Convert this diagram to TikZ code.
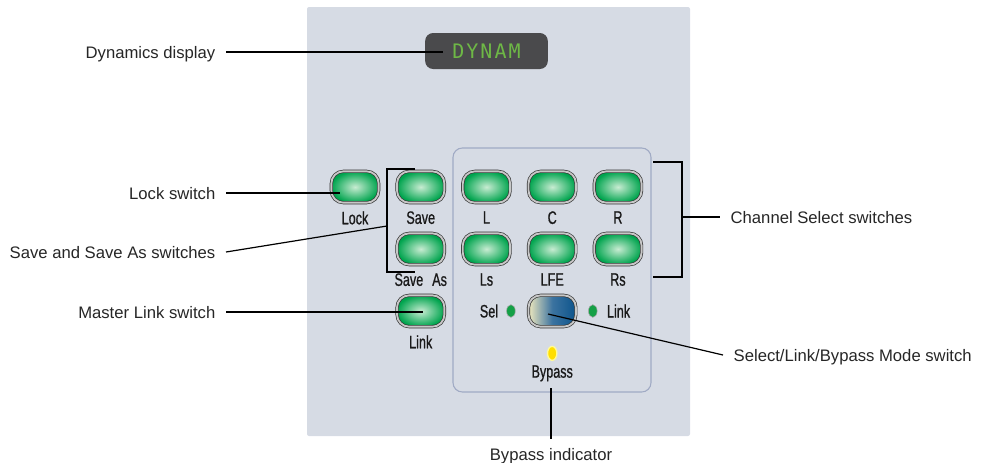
\documentclass[tikz,border=0pt]{standalone}
\usepackage{fontspec}
\setmainfont{Liberation Sans}
\newfontfamily\btnfont[FakeStretch=0.7, FakeBold=0.8]{Liberation Sans}
\newfontfamily\lcdfont[LetterSpace=10]{DejaVu Sans Mono}
\usetikzlibrary{positioning,shapes.geometric,fit}
\definecolor{panelfill}{RGB}{214,219,228}
\definecolor{chedge}{RGB}{160,170,196}
\definecolor{lcdgray}{RGB}{74,74,76}
\definecolor{lcdgreen}{RGB}{110,184,70}
\definecolor{swgreen}{RGB}{0,164,78}
\definecolor{swlight}{RGB}{200,236,210}
\definecolor{modecream}{RGB}{238,232,190}
\definecolor{modemid}{RGB}{60,115,160}
\definecolor{modeblue}{RGB}{12,84,140}
\definecolor{ledgreen}{RGB}{20,160,70}
\definecolor{ledyellow}{RGB}{255,222,0}
\tikzset{
  sw/.style={draw=black!80, double=black!22, double distance=1.4pt, line width=0.5pt, rounded corners=9pt, minimum width=35.5pt, minimum height=23.5pt, inner sep=0pt, shading=radial, inner color=swlight, outer color=swgreen},
  modesw/.style={sw, left color=modecream, right color=modeblue, middle color=modemid},
  tag/.style={font=\btnfont\fontsize{13.5}{15}\selectfont, text=black!90, inner sep=0pt},
  note/.style={font=\fontsize{12.5}{14}\selectfont, text=black!85, inner sep=0pt, text height=9pt, text depth=0pt, outer xsep=8pt},
  lead/.style={line width=1.4pt},
  thinlead/.style={line width=0.9pt},
  brk/.style={line width=1.4pt},
  led/.style={ellipse, draw=black!35, line width=0.4pt, fill=ledgreen, minimum width=6.5pt, minimum height=9.5pt, inner sep=0pt},
  yled/.style={led, draw=yellow!40!white, line width=1pt, fill=ledyellow, minimum width=7pt, minimum height=10.5pt},
  lcd/.style={fill=lcdgray, rounded corners=6pt, minimum width=92pt, minimum height=27pt, text=lcdgreen, font=\lcdfont\fontsize{15}{16}\selectfont},
  chbox/.style={draw=chedge, line width=0.8pt, rounded corners=7pt, inner sep=0pt}
}
\begin{document}
\begin{tikzpicture}[x=0.75pt, y=-0.75pt]
  \useasboundingbox (0,0) rectangle (985,462);
  % panel and channel section
  \fill[panelfill, rounded corners=1.5pt] (307,7) rectangle (690,436);
  \coordinate (cbnw) at (453,148);
  \coordinate (cbse) at (651,392);
  \node[chbox, fit=(cbnw)(cbse)] (chan) {};
  \node[lcd] (disp) at (486.5,51) {DYNAM};
  % switches
  \node[sw] (lock) at (355,187) {};
  \node[sw, right=13.3pt of lock] (save) {};
  \node[sw, right=13.3pt of save] (lch) {};
  \node[sw, right=13.3pt of lch] (cch) {};
  \node[sw, right=13.3pt of cch] (rch) {};
  \node[sw, below=22.5pt of save] (saveas) {};
  \node[sw, below=22.5pt of lch] (lsch) {};
  \node[sw, below=22.5pt of cch] (lfech) {};
  \node[sw, below=22.5pt of rch] (rsch) {};
  \node[sw, below=22.5pt of saveas] (link) {};
  \node[modesw, below=22.5pt of lfech] (mode) {};
  \node[tag, below=6pt of lock] (tlock) {Lock};
  \node[tag, below=6pt of save] (tsave) {Save};
  \node[tag, below=6pt of lch] (tl) {L};
  \node[tag, below=6pt of cch] (tc) {C};
  \node[tag, below=6pt of rch] (tr) {R};
  \node[tag, below=6pt of saveas] (tsaveas) {Save\enspace As};
  \node[tag, below=6pt of lsch] (tls) {Ls};
  \node[tag, below=6pt of lfech] (tlfe) {LFE};
  \node[tag, below=6pt of rsch] (trs) {Rs};
  \node[tag, below=6pt of link] (tlink) {Link};
  % mode indicators
  \node[led, left=9.5pt of mode] (selled) {};
  \node[led, right=9pt of mode] (linkled) {};
  \node[tag, left=6pt of selled] (tsel) {Sel};
  \node[tag, right=7pt of linkled] (tmlink) {Link};
  \node[yled, below=14pt of mode] (byled) {};
  \node[tag, below=3pt of byled] (tbyp) {Bypass};
  % callouts
  \node[note, anchor=east] (ndyn) at (226,52) {Dynamics display};
  \node[note, anchor=east] (nlock) at (226,193) {Lock switch};
  \node[note, anchor=east] (nsave) at (226,252) {Save and Save As switches};
  \node[note, anchor=east] (nmaster) at (226,312) {Master Link switch};
  \node[note, anchor=west] (nchan) at (720,217) {Channel Select switches};
  \node[note, anchor=west] (nmode) at (723,355) {Select/Link/Bypass Mode switch};
  \node[note, outer ysep=7pt] (nbyp) at (551,454.5) {Bypass indicator};
  \coordinate (pdyn) at (443,52);
  \coordinate (plock) at (340,193);
  \coordinate (psave) at (387,226);
  \coordinate (pmaster) at (423,312);
  \coordinate (pchan) at (682,217);
  \coordinate (pmode) at (548,314);
  \coordinate (pbyp) at (551,388);
  \draw[lead] (ndyn.east) -- (pdyn);
  \draw[lead] (nlock.east) -- (plock);
  \draw[thinlead] (nsave.east) -- (psave);
  \draw[lead] (nmaster.east) -- (pmaster);
  \draw[brk] (415,169) -| (387,272) -- (415,272);
  \draw[brk] (653,162) -| (682,277) -- (653,277);
  \draw[lead] (pchan) -- (nchan.west);
  \draw[thinlead] (pmode) -- (nmode.west);
  \draw[lead] (pbyp) -- (nbyp.north);
\end{tikzpicture}
\end{document}
